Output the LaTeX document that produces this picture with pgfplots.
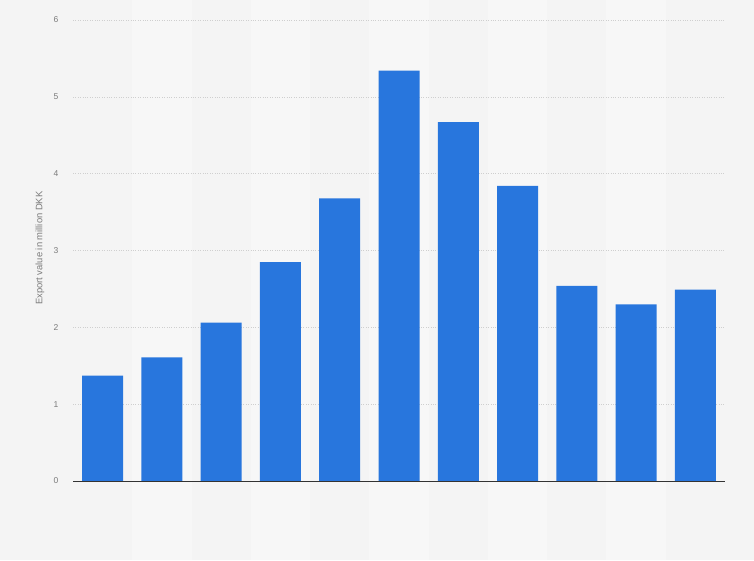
\documentclass[border=0pt]{standalone}
\usepackage{pgfplots}
\pgfplotsset{compat=1.18}
\usepackage{fontspec}
\setmainfont{Liberation Sans}
\definecolor{bg}{HTML}{F4F4F4}
\definecolor{band}{HTML}{F7F7F7}
\definecolor{barc}{HTML}{2876DD}
\definecolor{tickc}{HTML}{7A7A7A}
\definecolor{gridc}{HTML}{CFCFCF}
\begin{document}
\begin{tikzpicture}[x=1pt,y=1pt]
\fill[bg] (0,0) rectangle (754,560);
\foreach \i in {1,3,5,7,9}{
  \fill[band] ({73+\i*59.2727},0) rectangle ({73+(\i+1)*59.2727},560);
}
\begin{axis}[
  at={(73pt,79pt)}, anchor=south west,
  width=652pt, height=461pt, scale only axis,
  xmin=-0.5, xmax=10.5, ymin=0, ymax=6,
  ybar, bar width=41pt,
  xtick=\empty,
  ytick={0,1,2,3,4,5,6},
  ymajorgrids, grid style={gridc, dotted, line width=0.6pt},
  axis line style={draw=none},
  axis x line*=bottom,
  axis y line*=left,
  y axis line style={draw=none},
  major tick length=0pt,
  tick label style={font=\fontsize{8.5}{10}\selectfont, text=tickc},
  /pgf/number format/assume math mode=true,
  yticklabel style={xshift=-11pt},
  ylabel={Export value in million DKK},
  every axis y label/.style={at={(-33pt,0.505)}, rotate=90, anchor=center, font=\fontsize{9.4}{11}\selectfont, text=tickc},
  clip=false,
]
\addplot[fill=barc, draw=none] coordinates {
(0,1.37) (1,1.61) (2,2.06) (3,2.85) (4,3.68) (5,5.34) (6,4.67) (7,3.84) (8,2.54) (9,2.30) (10,2.49)
};
\draw[color=black!80, line width=1pt] (axis cs:-0.5,0) -- (axis cs:10.5,0);
\end{axis}
\pgfresetboundingbox
\useasboundingbox (0,0) rectangle (754,560);
\end{tikzpicture}
\end{document}
